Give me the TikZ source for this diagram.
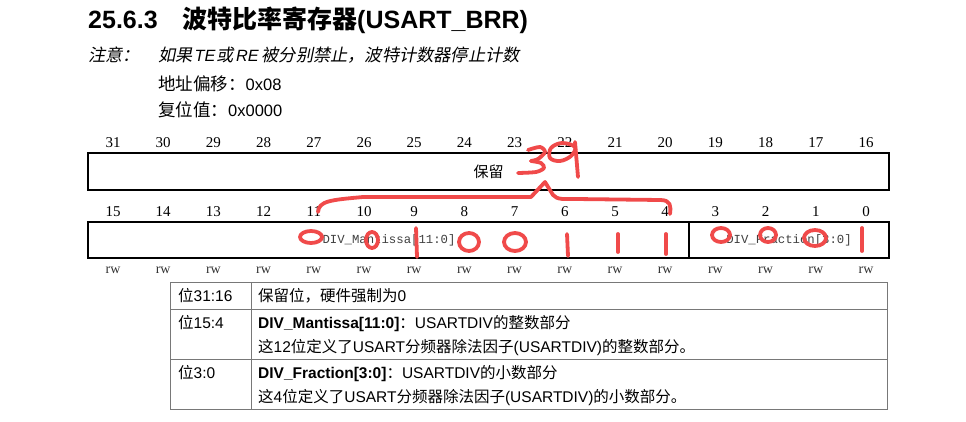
\documentclass[tikz,border=0pt]{standalone}
\usepackage{fontspec}
\setmainfont{Liberation Sans}
\newfontfamily\cjk{Noto Sans CJK SC}
\newfontfamily\cjkit[FakeSlant=0.2]{Noto Sans CJK SC}
\newfontfamily\serifnum{Liberation Serif}
\newfontfamily\monofont{Liberation Mono}
\definecolor{annot}{RGB}{240,74,74}
\definecolor{tblline}{RGB}{120,120,120}
\tikzset{
  txt/.style={inner sep=0pt, anchor=base west},
  bitnum/.style={inner sep=0pt, anchor=base, font=\serifnum\fontsize{15}{18}\selectfont},
  rwlbl/.style={inner sep=0pt, anchor=base, font=\serifnum\fontsize{14}{16}\selectfont, text=black!80},
  regbox/.style={draw=black, line width=2pt, inner sep=0pt, minimum height=37pt},
  fieldtxt/.style={font=\monofont\fontsize{12.3}{14}\selectfont, text=black!75},
  tbl/.style={draw=tblline, line width=1pt},
  body/.style={inner sep=0pt, anchor=base west, font=\fontsize{15.5}{18}\selectfont},
  redmark/.style={draw=annot, line width=3.8pt, line cap=round, line join=round}
}
\newcommand{\ncj}[1]{{\cjkit\upshape\fontsize{17.2}{19}\selectfont #1}}
\begin{document}
\begin{tikzpicture}[x=1pt,y=-1pt]
\useasboundingbox (0,0) rectangle (966,422);
\fill[white] (0,0) rectangle (966,422);

% heading
\node[txt, font=\fontsize{25}{30}\selectfont\bfseries] (secnum) at (88,29) {25.6.3};
\node[txt, font=\fontsize{25}{30}\selectfont\bfseries] (sectitle) at (182,29) {{\cjk\bfseries 波特比率寄存器}(USART\_BRR)};

% notes
\node[txt, font=\fontsize{16.3}{19}\selectfont] (notelbl) at (88,62) {\ncj{注意：}};
\node[txt, font=\fontsize{16.3}{19}\selectfont\itshape] (notetxt) at (158,62) {\ncj{如果}\hspace{2pt}TE\hspace{1.5pt}\ncj{或}\hspace{2pt}RE\hspace{3pt}\ncj{被分别禁止，波特计数器停止计数}};
\node[txt, font=\fontsize{16.5}{19}\selectfont] (offset) at (158,91) {{\cjk\fontsize{17.5}{19}\selectfont 地址偏移：}0x08};
\node[txt, font=\fontsize{16.5}{19}\selectfont] (reset) at (158,117) {{\cjk\fontsize{17.5}{19}\selectfont 复位值：}0x0000};

% bit numbers and rw
\foreach \i in {0,...,15} {
  \pgfmathtruncatemacro{\hi}{31-\i}
  \pgfmathtruncatemacro{\lo}{15-\i}
  \node[bitnum] (hb\hi) at ({113+\i*50.2},148) {\hi};
  \node[bitnum] (lb\lo) at ({113+\i*50.2},217) {\lo};
  \node[rwlbl] (rw\lo) at ({113+\i*50.2},273) {rw};
}

% register boxes
\node[regbox, minimum width=801pt] (rsvbox) at (488.5,171.5) {\cjk\fontsize{15}{18}\selectfont 保留};
\node[regbox, minimum width=601pt, minimum height=36pt] (mantbox) at (388.5,240) {};
\node[regbox, minimum width=200pt, minimum height=36pt] (fracbox) at (789,240) {};
\node[fieldtxt] (manttxt) at (389,240) {DIV\_Mantissa[11:0]};
\node[fieldtxt] (fractxt) at (789,240) {DIV\_Fraction[3:0]};

% table
\draw[tbl] (170,282) rectangle (887,409);
\draw[tbl] (170,309) -- (887,309);
\draw[tbl] (170,359) -- (887,359);
\draw[tbl] (251,282) -- (251,409);

\node[body] (b1) at (178,301) {{\cjk 位}31:16};
\node[body] (d1) at (258,301) {{\cjk 保留位，硬件强制为}0};
\node[body] (b2) at (178,328) {{\cjk 位}15:4};
\node[body] (d2a) at (258,328) {\textbf{DIV\_Mantissa[11:0]}{\cjk ：}USARTDIV{\cjk 的整数部分}};
\node[body] (d2b) at (258,352) {{\cjk 这}12{\cjk 位定义了}USART{\cjk 分频器除法因子}(USARTDIV){\cjk 的整数部分。}};
\node[body] (b3) at (178,378) {{\cjk 位}3:0};
\node[body] (d3a) at (258,378) {\textbf{DIV\_Fraction[3:0]}{\cjk ：}USARTDIV{\cjk 的小数部分}};
\node[body] (d3b) at (258,402) {{\cjk 这}4{\cjk 位定义了}USART{\cjk 分频器除法因子}(USARTDIV){\cjk 的小数部分。}};

% red handwritten annotations
\draw[redmark] (318,212) .. controls (319,201) and (330,200) .. (363,197) -- (531,197) -- (545,182) -- (553,195) .. controls (557,200) and (565,199) .. (575,199) -- (660,200) .. controls (671,200) and (671,206) .. (670,214);
% "3"
\draw[redmark] plot[smooth, tension=0.5] coordinates {(528,150) (540,147) (545,152) (538,159) (531,161)};
\draw[redmark] plot[smooth, tension=0.5] coordinates {(531,161) (541,163) (544,168) (536,172) (518,173)};
% "9"
\draw[redmark] plot[smooth cycle, tension=0.6] coordinates {(575,147) (562,143) (551,148) (550,158) (560,161) (571,156)};
\draw[redmark] (575,142) -- (578,177);
% bits 11..4
\draw[redmark] (311,237) ellipse [x radius=11, y radius=6];
\draw[redmark] (372,240) ellipse [x radius=6, y radius=8];
\draw[redmark] (416,228) -- (417,257);
\draw[redmark] (469,242) ellipse [x radius=10, y radius=9];
\draw[redmark] (515,242) ellipse [x radius=11, y radius=9];
\draw[redmark] (567,234) -- (568,256);
\draw[redmark] (618,234) -- (618,252);
\draw[redmark] (666,234) -- (666,254);
% bits 3..0
\draw[redmark] (721,235) ellipse [x radius=9, y radius=7];
\draw[redmark] (768,235) ellipse [x radius=8, y radius=7];
\draw[redmark] (815,238) ellipse [x radius=11, y radius=8];
\draw[redmark] (862,228) -- (862,251);
\end{tikzpicture}
\end{document}
